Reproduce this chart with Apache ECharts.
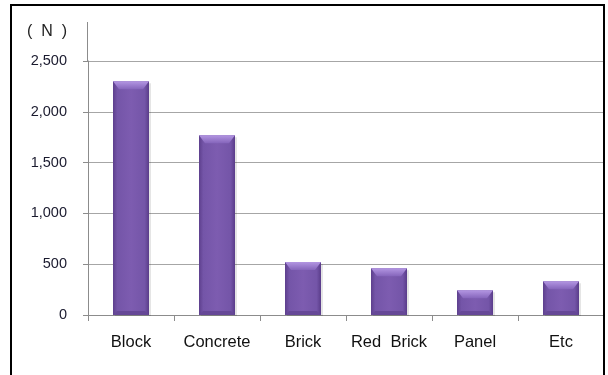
<!DOCTYPE html>
<html>
<head>
<meta charset="utf-8">
<script src="https://cdn.jsdelivr.net/npm/echarts@6/dist/echarts.min.js"></script>
<style>
  html, body { margin: 0; padding: 0; background: #fff; }
  #chart { width: 608px; height: 375px; }
</style>
</head>
<body>
<div id="chart"></div>
<script>
// Categories and values (N)
const categories = ['Block', 'Concrete', 'Brick', 'Red  Brick', 'Panel', 'Etc'];
const values = [2300, 1770, 522, 460, 243, 332];
const yTicks = [0, 500, 1000, 1500, 2000, 2500];

const chart = echarts.init(document.getElementById('chart'));

const BAR_W = 36;

// Bevelled bar: body, lighter top bevel, darker side and bottom edges
function renderBar(params, api) {
  const idx = api.value(0);
  const top = api.coord([idx, api.value(1)]);
  const base = api.coord([idx, 0]);
  const x0 = top[0] - BAR_W / 2;
  const x1 = top[0] + BAR_W / 2;
  const y0 = top[1];
  const y1 = base[1];
  const h = y1 - y0;
  const bev = Math.min(8, h / 3);
  return {
    type: 'group',
    children: [
      {
        type: 'rect',
        shape: { x: x0 + 2, y: y0 + 2, width: BAR_W, height: h - 1 },
        style: { fill: 'rgba(0,0,0,0.10)' }
      },
      {
        type: 'rect',
        shape: { x: x0, y: y0, width: BAR_W, height: h },
        style: {
          fill: new echarts.graphic.LinearGradient(0, 0, 1, 0, [
            { offset: 0, color: '#5d3f8d' },
            { offset: 0.12, color: '#7455a8' },
            { offset: 0.5, color: '#7d5cb0' },
            { offset: 0.88, color: '#7455a8' },
            { offset: 1, color: '#5a3c8a' }
          ])
        }
      },
      {
        type: 'polygon',
        shape: { points: [[x0, y0], [x1, y0], [x1 - 6, y0 + bev], [x0 + 6, y0 + bev]] },
        style: {
          fill: new echarts.graphic.LinearGradient(0, 0, 0, 1, [
            { offset: 0, color: '#b396e2' },
            { offset: 1, color: '#8565bb' }
          ])
        }
      },
      {
        type: 'polygon',
        shape: { points: [[x0, y1], [x1, y1], [x1 - 4, y1 - 4], [x0 + 4, y1 - 4]] },
        style: { fill: '#664897' }
      }
    ]
  };
}

chart.setOption({
  animation: false,
  grid: { left: 88, right: 4, top: 61, bottom: 60 },
  xAxis: {
    type: 'category',
    data: categories,
    axisLine: { show: true, lineStyle: { color: '#8c8c8c', width: 1 } },
    axisTick: { show: true, length: 6, lineStyle: { color: '#8c8c8c' } },
    axisLabel: {
      interval: 0,
      margin: 19,
      fontFamily: 'Liberation Sans, Arial, sans-serif',
      fontSize: 16.5,
      color: '#111'
    },
    splitLine: { show: false }
  },
  yAxis: {
    type: 'value',
    min: yTicks[0],
    max: yTicks[yTicks.length - 1],
    interval: 500,
    axisLine: { show: true, lineStyle: { color: '#8c8c8c', width: 1 } },
    axisTick: { show: true, length: 5, lineStyle: { color: '#8c8c8c' } },
    axisLabel: {
      margin: 21,
      fontFamily: 'Liberation Sans, Arial, sans-serif',
      fontSize: 14.5,
      color: '#1a1a2e',
      formatter: v => v.toLocaleString('en-US')
    },
    splitLine: { show: true, lineStyle: { color: '#a6a6a6', width: 1 } }
  },
  graphic: [
    {
      type: 'rect',
      shape: { x: 11, y: 5, width: 593, height: 390 },
      style: { fill: 'none', stroke: '#000', lineWidth: 2 },
      z: 100
    },
    {
      type: 'line',
      shape: { x1: 87.5, y1: 22, x2: 87.5, y2: 61 },
      style: { stroke: '#8c8c8c', lineWidth: 1 }
    },
    {
      type: 'text',
      x: 47,
      y: 32,
      style: {
        text: '(  N  )',
        fontFamily: 'Liberation Sans, Arial, sans-serif',
        fontSize: 16,
        fill: '#222',
        align: 'center',
        verticalAlign: 'middle'
      }
    }
  ],
  series: [{
    type: 'custom',
    renderItem: renderBar,
    encode: { x: 0, y: 1 },
    data: values.map((v, i) => [i, v])
  }]
});
</script>
</body>
</html>
